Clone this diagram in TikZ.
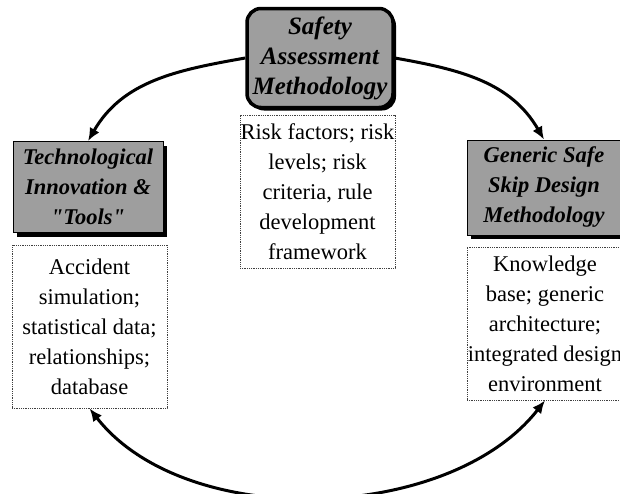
\documentclass[tikz,border=0pt]{standalone}
\usepackage{fontspec}
\setmainfont{Liberation Serif}[Ligatures=TeXOff]
\usetikzlibrary{arrows.meta,shadows}
\begin{document}
\begin{tikzpicture}[x=1pt,y=-1pt,
  headbox/.style={draw=black, line width=0.8pt, fill=black!38,
    general shadow={fill=black, shadow xshift=4pt, shadow yshift=-4pt},
    inner sep=0pt, align=center,
    font=\fontsize{22.5}{30}\selectfont\bfseries\itshape},
  topbox/.style={draw=black, line width=3.5pt, rounded corners=14pt, fill=black!38,
    general shadow={fill=black, shadow xshift=3pt, shadow yshift=-3pt},
    inner sep=0pt, align=center,
    font=\fontsize{25}{30}\selectfont\bfseries\itshape},
  descbox/.style={draw=black!75, densely dotted, line width=0.8pt, fill=white,
    inner sep=0pt, align=center, font=\fontsize{22.5}{30}\selectfont},
  cycle/.style={line width=3pt, -{Latex[length=13pt,width=11pt]}},
  cycle2/.style={line width=3pt, {Latex[length=13pt,width=11pt]}-{Latex[length=13pt,width=11pt]}}
]
\useasboundingbox[fill=white] (0,0) rectangle (620,493);

% central methodology with its description
\node[topbox, minimum width=146pt, minimum height=99pt] (sam) at (320,58)
  {Safety\\Assessment\\Methodology};
\node[descbox, minimum width=155pt, minimum height=153pt] (samd) at (317.5,191.5)
  {Risk factors; risk\\levels; risk\\criteria, rule\\development\\framework};

% left branch
\node[headbox, minimum width=150pt, minimum height=91pt] (tit) at (88,187)
  {Technological\\Innovation \&\\"Tools"};
\node[descbox, minimum width=155pt, minimum height=163pt] (titd) at (89.5,326.5)
  {Accident\\simulation;\\statistical data;\\relationships;\\database};

% right branch
\node[headbox, minimum width=154pt, minimum height=95pt] (gsd) at (544,187.5)
  {Generic Safe\\Skip Design\\Methodology};
\node[descbox, minimum width=156pt, minimum height=153pt] (gsdd) at (545,323.5)
  {Knowledge\\base; generic\\architecture;\\integrated design\\environment};

% cycle connectors
\draw[cycle] (sam.west) to[out=190, in=60] (tit.north);
\draw[cycle] (sam.east) to[out=-10, in=120] (gsd.north);
\draw[cycle2] (titd.south) .. controls +(96,123) and +(-96,123) .. (gsdd.south);
\end{tikzpicture}
\end{document}
